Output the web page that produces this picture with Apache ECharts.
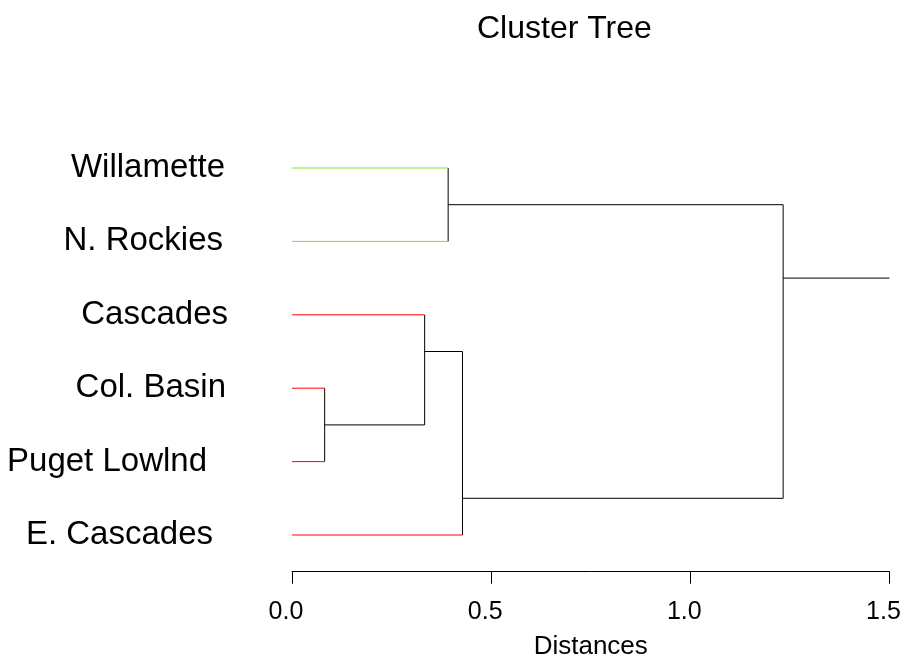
<!DOCTYPE html>
<html>
<head>
<meta charset="utf-8">
<script src="https://cdn.jsdelivr.net/npm/echarts@6/dist/echarts.min.js"></script>
<style>html,body{margin:0;padding:0;background:#fff;}#c{width:904px;height:659px;}</style>
</head>
<body>
<div id="c"></div>
<script>
// Leaves (top to bottom) and their cluster group
const leaves = ['Willamette', 'N. Rockies', 'Cascades', 'Col. Basin', 'Puget Lowlnd', 'E. Cascades'];
const leafGroup = [0, 0, 1, 1, 1, 1];
// Internal nodes (ids 6..10): children, merge distance, vertical position (leaf index units)
const mergeLeft   = [0, 3, 2, 8, 6];
const mergeRight  = [1, 4, 7, 5, 9];
const mergeHeight = [0.392, 0.082, 0.333, 0.428, 1.233];
const mergeY      = [0.5, 3.5, 2.5, 4.5, 1.5];
const rootTailEnd = 1.5;
// x axis ticks
const xTicks = [0, 0.5, 1.0, 1.5];

const groupColors = ['#8cdc28', '#ff0000'];
const labelPad = [3, 5, 0, 2, 21, 15];
const FONT = '"Liberation Sans", Arial, Helvetica, sans-serif';

// Build node tables
const nodeH = [], nodeY = [];
leaves.forEach((_, i) => { nodeH.push(0); nodeY.push(i); });
mergeHeight.forEach((h, k) => { nodeH.push(h); nodeY.push(mergeY[k]); });
const nLeaves = leaves.length;

// segments: [x1, y1, x2, y2, colorKey]  (colorKey: -1 black, else group)
const segs = [];
mergeHeight.forEach((h, k) => {
  const a = mergeLeft[k], b = mergeRight[k];
  segs.push([h, nodeY[a], h, nodeY[b], -1]);
  [a, b].forEach(c => {
    const col = c < nLeaves ? leafGroup[c] : -1;
    segs.push([nodeH[c], nodeY[c], h, nodeY[c], col]);
  });
});
const root = nodeH.length - 1;
segs.push([nodeH[root], nodeY[root], rootTailEnd, nodeY[root], -1]);

const rich = {};
leaves.forEach((_, i) => {
  rich['l' + i] = { fontSize: 33, fontFamily: FONT, color: '#000', padding: [0, labelPad[i], 0, 0] };
});

const chart = echarts.init(document.getElementById('c'), null, { renderer: 'canvas' });
chart.setOption({
  animation: false,
  backgroundColor: '#fff',
  title: {
    text: 'Cluster Tree',
    left: 477, top: 13, padding: 0,
    textStyle: { fontSize: 32, fontWeight: 'normal', fontFamily: FONT, color: '#000' }
  },
  grid: { left: 292, right: 14.5, top: 131.3, height: 440.4, containLabel: false, outerBoundsMode: 'none' },
  xAxis: {
    type: 'value', min: 0, max: 1.5, interval: 0.5,
    name: 'Distances', nameLocation: 'middle', nameGap: 62,
    nameTextStyle: { fontSize: 26, fontFamily: FONT, color: '#000' },
    axisLine: { show: true, onZero: false, lineStyle: { color: '#000', width: 1 } },
    axisTick: { show: true, length: 12, lineStyle: { color: '#000', width: 1 } },
    axisLabel: { fontSize: 25, fontFamily: FONT, color: '#000', margin: 28,
      padding: [0, 12, 0, 0],
      formatter: v => (xTicks.indexOf(v) >= 0 ? v.toFixed(1) : '') },
    splitLine: { show: false }
  },
  yAxis: [{
    type: 'category', data: leaves, inverse: true,
    axisLine: { show: false }, axisTick: { show: false }, splitLine: { show: false },
    axisLabel: { margin: 64, align: 'right', rich: rich,
      formatter: (v, i) => '{l' + i + '|' + v + '}' }
  }, {
    type: 'value', min: -0.5, max: 5.5, inverse: true, show: false,
    splitLine: { show: false }
  }],
  series: [{
    type: 'custom',
    xAxisIndex: 0, yAxisIndex: 1,
    silent: true,
    data: segs,
    encode: { x: [0, 2], y: [1, 3] },
    renderItem: (params, api) => {
      const p1 = api.coord([api.value(0), api.value(1)]);
      const p2 = api.coord([api.value(2), api.value(3)]);
      const ck = api.value(4);
      return {
        type: 'line',
        shape: { x1: p1[0], y1: p1[1], x2: p2[0], y2: p2[1] },
        style: { stroke: ck < 0 ? '#000' : groupColors[ck], lineWidth: 1 }
      };
    }
  }]
});
</script>
</body>
</html>
